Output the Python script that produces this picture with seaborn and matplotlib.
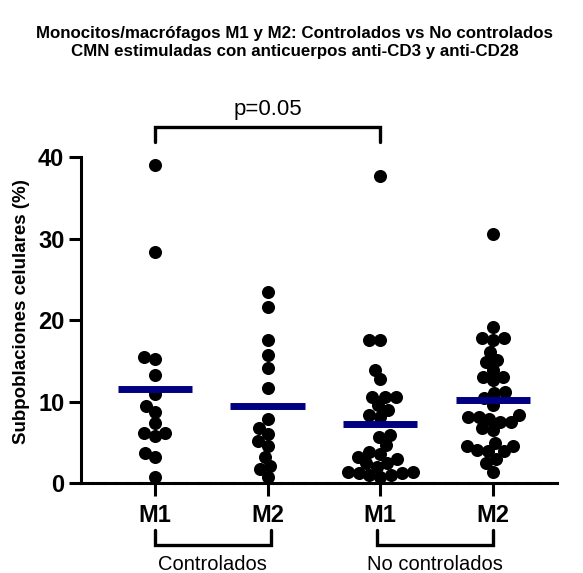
import numpy as np
import pandas as pd
import seaborn as sns
import matplotlib.pyplot as plt
import matplotlib.transforms as mtransforms
from matplotlib.collections import PathCollection

# values (% of cells)
ctrl_m1 = [39.0, 28.3, 15.2, 15.5, 13.2, 10.9, 9.4, 8.7, 7.4, 6.2, 5.8, 6.2, 3.7, 3.2, 0.8]
ctrl_m2 = [23.4, 21.6, 17.5, 15.7, 14.1, 11.6, 7.8, 6.8, 6.0, 5.2, 4.5, 3.2, 2.1, 1.7, 0.8]
noctrl_m1 = [37.7, 17.6, 17.6, 13.9, 12.8, 10.6, 10.6, 10.6, 9.6, 9.0, 8.3, 8.1, 5.7, 5.9,
             4.7, 3.8, 3.6, 3.0, 3.2, 2.4, 2.4, 2.0, 1.4, 1.0, 1.4, 1.2, 1.2, 0.8, 1.0]
noctrl_m2 = [30.6, 19.2, 17.8, 17.8, 17.6, 16.1, 15.1, 14.9, 13.9, 13.0, 13.0, 12.6, 11.2,
             11.0, 10.4, 9.6, 8.3, 8.1, 7.9, 7.5, 8.1, 7.5, 6.5, 6.7, 4.9, 4.5, 4.0, 3.9,
             3.9, 4.5, 3.0, 2.4, 1.4]

groups = ["Controlados M1", "Controlados M2", "No controlados M1", "No controlados M2"]
tick_labels = ["M1", "M2", "M1", "M2"]
group_names = ["Controlados", "No controlados"]
p_text = "p=0.05"

sns.set_style("ticks")
plt.rcParams['font.family'] = ['Liberation Sans', 'DejaVu Sans']
plt.rcParams.update({"text.color": "black", "axes.labelcolor": "black",
                     "xtick.color": "black", "ytick.color": "black"})

df = pd.DataFrame({
    "grupo": sum([[g] * len(v) for g, v in zip(groups, [ctrl_m1, ctrl_m2, noctrl_m1, noctrl_m2])], []),
    "valor": ctrl_m1 + ctrl_m2 + noctrl_m1 + noctrl_m2,
})

fig = plt.figure(figsize=(5.83, 5.73), dpi=100)
ax = fig.add_axes([0.139, 0.157, 0.816, 0.569])

sns.swarmplot(data=df, x="grupo", y="valor", order=groups, color="black",
              size=7.5, ax=ax, zorder=2)

# mean bars
means = df.groupby("grupo")["valor"].mean().reindex(groups).values
for i, m in enumerate(means):
    ax.hlines(m, i - 0.33, i + 0.33, color="#000080", lw=5, zorder=3)

ax.set_xlim(-0.655, 3.566)
ax.set_ylim(0, 40)
ax.set_yticks([0, 10, 20, 30, 40])
ax.set_xticks(range(4))
ax.set_xticklabels(tick_labels)
ax.set_xlabel("")
ax.set_ylabel("Subpoblaciones celulares (%)", fontsize=13.5, fontweight="bold")
ax.yaxis.set_label_coords(-0.108, 0.525)
ax.tick_params(axis="both", length=9, width=2.2, labelsize=17, color="black")
ax.tick_params(axis="x", pad=6)
ax.tick_params(axis="y", pad=3)
for lab in ax.get_xticklabels() + ax.get_yticklabels():
    lab.set_fontweight("bold")

sns.despine(ax=ax)
for side in ["left", "bottom"]:
    ax.spines[side].set_linewidth(2.2)
    ax.spines[side].set_color("black")
ax.spines["bottom"].set_linestyle((0, (3.5, 0.35)))

# lay the swarm out with a smaller marker, then freeze it and draw bigger dots
# so that they overlap like in the original
fig.canvas.draw()
for coll in ax.collections:
    if not isinstance(coll, PathCollection):
        continue
    if "draw" in coll.__dict__:
        del coll.draw
    coll.set_sizes([9.4 ** 2])
    coll.set_clip_on(False)

# significance bracket
ax.plot([0, 0, 2, 2], [41.8, 43.7, 43.7, 41.8], color="black", lw=2.4, clip_on=False,
        solid_joinstyle="miter")
ax.text(1, 44.6, p_text, ha="center", va="bottom", fontsize=16)

# group brackets under the x labels
trans = mtransforms.blended_transform_factory(ax.transData, ax.transAxes)
for (x0, x1), name in zip([(0, 1.03), (1.97, 3.0)], group_names):
    ax.plot([x0, x0, x1, x1], [-0.144, -0.19, -0.19, -0.144], color="black", lw=2.4,
            transform=trans, clip_on=False, solid_joinstyle="miter")
    ax.text((x0 + x1) / 2, -0.22, name, ha="center", va="top", fontsize=14.5, transform=trans)

fig.text(0.505, 0.955, "Monocitos/macrófagos M1 y M2: Controlados vs No controlados\n"
         "CMN estimuladas con anticuerpos anti-CD3 y anti-CD28",
         ha="center", va="top", fontsize=12.2, fontweight="bold", linespacing=1.3)

plt.savefig("out.png", dpi=100)
plt.close()
